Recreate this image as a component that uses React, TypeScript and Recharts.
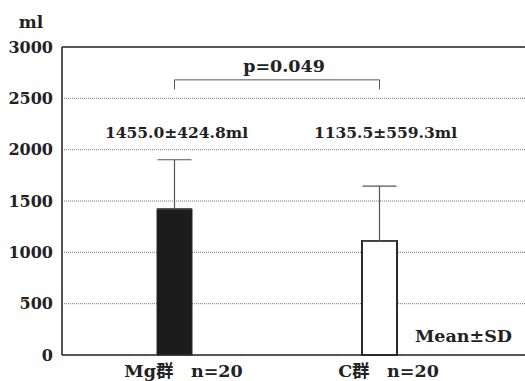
import React from 'react';
import {
  ComposedChart,
  Bar,
  Cell,
  XAxis,
  YAxis,
  CartesianGrid,
  ErrorBar,
  ReferenceLine,
  ReferenceDot,
} from 'recharts';

const categories = ['Mg群', 'C群'];
const tickLabels = ['Mg群　n=20', 'C群　n=20'];
const barValues = [1424, 1110];
const sdUpper = [478, 535];
const meanLabels = ['1455.0±424.8ml', '1135.5±559.3ml'];
const yTicks = [0, 500, 1000, 1500, 2000, 2500, 3000];
const pLabel = 'p=0.049';
const bracketTop = 2680;
const bracketBottom = 2586;
const meanLabelY = 2172;
const unitLabel = 'ml';
const noteLabel = 'Mean±SD';

const barFills = ['#1c1c1c', '#ffffff'];

const FONT = "DejaVu Serif, Noto Sans CJK JP, serif";

const data = categories.map((c, i) => ({
  name: c,
  value: barValues[i],
  err: [0, sdUpper[i]],
}));

export default function App() {
  return (
    <div style={{ position: 'absolute', left: 0, top: 0, background: '#fff', fontFamily: FONT }}>
      <ComposedChart
        width={525}
        height={381}
        data={data}
        margin={{ top: 47, right: 0, bottom: 0, left: 0 }}
      >
        <CartesianGrid
          vertical={false}
          stroke="#777"
          strokeDasharray="1 1"
          strokeWidth={1}
        />
        <XAxis
          dataKey="name"
          height={26}
          padding={{ left: 10, right: 43 }}
          tickLine={false}
          tickSize={0}
          tickMargin={10}
          axisLine={{ stroke: '#2a2a2a', strokeWidth: 1.6 }}
          tickFormatter={(_v: string, i: number) => tickLabels[i]}
          tick={{ fill: '#222', fontSize: 17.5, fontWeight: 'bold', fontFamily: FONT, dx: 9 }}
          interval={0}
        />
        <YAxis
          width={62}
          domain={[0, 3000]}
          ticks={yTicks}
          interval={0}
          tickLine={false}
          tickSize={0}
          tickMargin={9}
          axisLine={{ stroke: '#2a2a2a', strokeWidth: 1.6 }}
          tick={{ fill: '#222', fontSize: 16, fontWeight: 'bold', fontFamily: FONT }}
          label={{
            value: unitLabel,
            position: 'top',
            offset: 19,
            fill: '#222',
            fontSize: 17,
            fontWeight: 'bold',
            fontFamily: FONT,
          }}
        />
        <ReferenceLine y={3000} stroke="#2a2a2a" strokeWidth={1.6} />
        <ReferenceLine
          y={0}
          stroke="none"
          label={{
            value: noteLabel,
            position: 'insideBottomRight',
            offset: 13,
            fill: '#222',
            fontSize: 17.5,
            fontWeight: 'bold',
            fontFamily: FONT,
          }}
        />
        <ReferenceLine
          segment={[
            { x: categories[0], y: bracketTop },
            { x: categories[1], y: bracketTop },
          ]}
          stroke="#555"
          strokeWidth={1}
          label={{
            value: pLabel,
            position: 'top',
            offset: 8,
            dx: 7,
            fill: '#222',
            fontSize: 17.5,
            fontWeight: 'bold',
            fontFamily: FONT,
          }}
        />
        <ReferenceLine
          segment={[
            { x: categories[0], y: bracketTop },
            { x: categories[0], y: bracketBottom },
          ]}
          stroke="#555"
          strokeWidth={1}
        />
        <ReferenceLine
          segment={[
            { x: categories[1], y: bracketTop },
            { x: categories[1], y: bracketBottom },
          ]}
          stroke="#555"
          strokeWidth={1}
        />
        {categories.map((c, i) => (
          <ReferenceDot
            key={c}
            x={c}
            y={meanLabelY}
            r={1}
            fill="none"
            stroke="none"
            label={{
              value: meanLabels[i],
              position: 'center',
              dx: i === 0 ? 2 : 6,
              fill: '#222',
              fontSize: 15.5,
              fontWeight: 'bold',
              fontFamily: FONT,
            }}
          />
        ))}
        <Bar dataKey="value" barSize={35} isAnimationActive={false}>
          {data.map((d, i) => (
            <Cell
              key={d.name}
              fill={barFills[i]}
              stroke="#2a2a2a"
              strokeWidth={i === 0 ? 1 : 2}
            />
          ))}
          <ErrorBar
            dataKey="err"
            width={17}
            stroke="#555"
            strokeWidth={1.2}
            direction="y"
            isAnimationActive={false}
          />
        </Bar>
      </ComposedChart>
    </div>
  );
}
